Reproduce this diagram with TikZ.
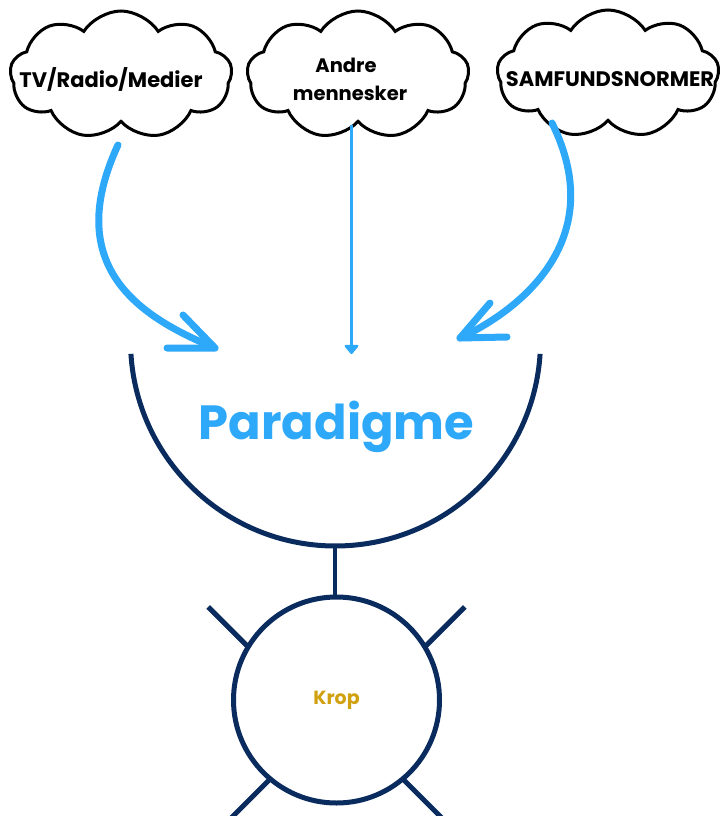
\documentclass[tikz,border=0pt]{standalone}
\usepackage{fontspec}
\setmainfont{Poppins}
\usetikzlibrary{shapes.symbols,arrows.meta}
\definecolor{skyblue}{HTML}{2EA8F8}
\definecolor{navy}{HTML}{0A2B5E}
\definecolor{gold}{HTML}{D1A00F}
\tikzset{
  cloudbox/.style={cloud, cloud puffs=9, cloud puff arc=115, draw=black, line width=3pt, fill=white,
    minimum width=222pt, minimum height=128pt, inner sep=0pt, outer sep=0pt},
  cloudtext/.style={font=\bfseries\fontsize{21}{27}\selectfont, anchor=base, inner sep=0pt, align=center},
  bigarrow/.style={draw=skyblue, line width=7pt, line cap=round, line join=round},
  navyline/.style={draw=navy, line width=5pt},
}
\begin{document}
\begin{tikzpicture}[x=1pt,y=1pt]
\useasboundingbox (0,0) rectangle (721,-816);
\clip (0,0) rectangle (721,-816);
% clouds
\node[cloudbox] (c1) at (121,-75) {};
\node[cloudbox] (c2) at (358,-75) {};
\node[cloudbox] (c3) at (608,-74) {};
\node[cloudtext] (t1) at (111,-87) {TV/Radio/Medier};
\node[cloudtext, font=\bfseries\fontsize{19.5}{27}\selectfont] (t2a) at (346,-73) {Andre};
\node[cloudtext, font=\bfseries\fontsize{19.5}{27}\selectfont] (t2b) at (350,-100) {mennesker};
\node[cloudtext] (t3) at (610,-86) {SAMFUNDSNORMER};
% paradigm arc
\coordinate (pc) at (335.5,-341);
\draw[navyline] (pc) ++(183.6:205) coordinate (pl) arc[start angle=183.6, end angle=356.4, radius=205] coordinate (pr);
\coordinate (pbot) at (335,-546);
\node[font=\bfseries\fontsize{48}{56}\selectfont, text=skyblue, anchor=base, inner sep=0pt] (par) at (336.5,-439) {Paradigme};
% body
\node[circle, draw=navy, line width=5pt, minimum size=206pt, inner sep=0pt, outer sep=0pt,
  text=gold, font=\bfseries\fontsize{19}{22}\selectfont] (krop) at (336.5,-700) {Krop};
\draw[draw=navy, line width=4.5pt] (pbot) -- (krop.north -| pbot);
\draw[navyline] (krop.149) -- ++(-40,40);
\draw[navyline] (krop.31) -- ++(40,40);
\draw[navyline] (krop.230) -- ++(-45,-45);
\draw[navyline] (krop.310) -- ++(45,-45);
% arrows
\coordinate (s1) at (118,-145);
\coordinate (e1) at (215,-348);
\draw[bigarrow] (s1) .. controls (60,-270) and (145,-319) .. (e1);
\draw[bigarrow] (183,-315) -- (e1) -- (167,-348);
\coordinate (s3) at (552,-123);
\coordinate (e3) at (460,-338);
\draw[bigarrow] (s3) .. controls (610,-240) and (520,-310) .. (e3);
\draw[bigarrow] (490,-303) -- (e3) -- (507,-337);
\coordinate (s2) at (351.5,-125);
\coordinate (e2) at (351.5,-354);
\draw[draw=skyblue, line width=3pt, -{Triangle[length=10pt,width=16pt,round]}] (s2) -- (e2);
\end{tikzpicture}
\end{document}
